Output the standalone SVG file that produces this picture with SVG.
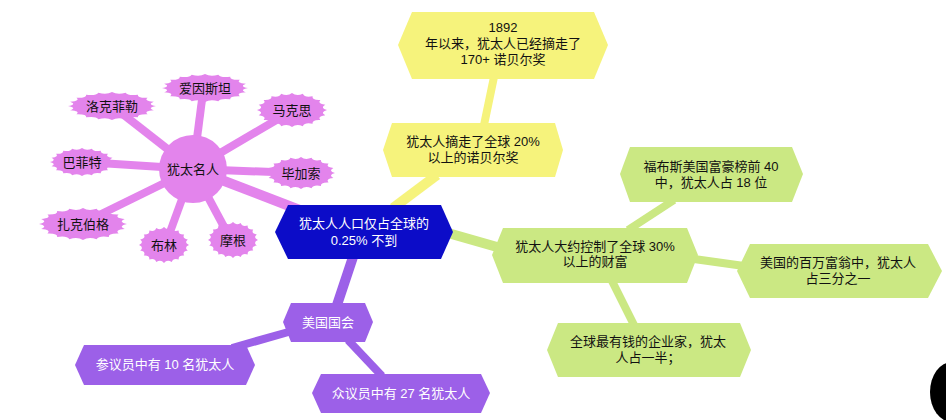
<svg xmlns="http://www.w3.org/2000/svg" width="946" height="420" viewBox="0 0 946 420">
<style>
text{font-family:"Liberation Sans","Noto Sans CJK SC",sans-serif;font-size:13px;text-anchor:middle;dominant-baseline:central}
.w{fill:#ffffff}.k{fill:#111111}
.pk{fill:#e384ec}.ye{fill:#f6f37c}.gr{fill:#cbe883}.pu{fill:#9c60e8}.bl{fill:#0c0cc8}
.cpk{stroke:#e384ec}.cye{stroke:#f6f37c}.cgr{stroke:#cbe883}.cpu{stroke:#9c60e8}
.c{fill:none;stroke-linecap:butt}
</style>
<defs>
<path id="burst" d="M1,0 Q0.790,0.125 0.9511,0.3090 Q0.713,0.363 0.8090,0.5878 Q0.566,0.566 0.5878,0.8090 Q0.363,0.713 0.3090,0.9511 Q0.125,0.790 0,1 Q-0.125,0.790 -0.3090,0.9511 Q-0.363,0.713 -0.5878,0.8090 Q-0.566,0.566 -0.8090,0.5878 Q-0.713,0.363 -0.9511,0.3090 Q-0.790,0.125 -1,0 Q-0.790,-0.125 -0.9511,-0.3090 Q-0.713,-0.363 -0.8090,-0.5878 Q-0.566,-0.566 -0.5878,-0.8090 Q-0.363,-0.713 -0.3090,-0.9511 Q-0.125,-0.790 0,-1 Q0.125,-0.790 0.3090,-0.9511 Q0.363,-0.713 0.5878,-0.8090 Q0.566,-0.566 0.8090,-0.5878 Q0.713,-0.363 0.9511,-0.3090 Q0.790,-0.125 1,0 Z"/>
</defs>
<rect width="946" height="420" fill="#ffffff"/>
<g id="connectors" class="c">
<line class="cpk" x1="193" y1="169" x2="310" y2="214" stroke-width="10"/>
<line class="cpk" x1="193" y1="169" x2="203" y2="92" stroke-width="8"/>
<line class="cpk" x1="193" y1="169" x2="115" y2="108" stroke-width="8"/>
<line class="cpk" x1="193" y1="169" x2="290" y2="112" stroke-width="8"/>
<line class="cpk" x1="193" y1="169" x2="84" y2="162" stroke-width="8"/>
<line class="cpk" x1="193" y1="169" x2="298" y2="173" stroke-width="8"/>
<line class="cpk" x1="193" y1="169" x2="85" y2="222" stroke-width="8"/>
<line class="cpk" x1="193" y1="169" x2="166" y2="243" stroke-width="8"/>
<line class="cpk" x1="193" y1="169" x2="230" y2="238" stroke-width="8"/>
<line class="cye" x1="393" y1="208" x2="437" y2="175" stroke-width="10"/>
<line class="cye" x1="484" y1="125" x2="494" y2="77" stroke-width="8"/>
<line class="cgr" x1="448" y1="233" x2="497" y2="247" stroke-width="10"/>
<line class="cgr" x1="628" y1="230" x2="674" y2="200" stroke-width="8"/>
<line class="cgr" x1="694" y1="259" x2="744" y2="266" stroke-width="8"/>
<line class="cgr" x1="612" y1="281" x2="634" y2="325" stroke-width="8"/>
<line class="cpu" x1="353" y1="257" x2="337" y2="305" stroke-width="10"/>
<line class="cpu" x1="292" y1="331" x2="232" y2="348" stroke-width="8"/>
<line class="cpu" x1="348" y1="340" x2="382" y2="376" stroke-width="8"/>
</g>
<g id="n-center">
<polygon class="bl" points="275,232 288,205 441,205 453,232 441,259 288,259"/>
<text class="w" x="364" y="223">犹太人人口仅占全球的</text>
<text class="w" x="364" y="240">0.25% 不到</text>
</g>
<g id="n-famous">
<circle class="pk" cx="193" cy="169" r="34"/>
<text class="k" x="193" y="169">犹太名人</text>
</g>
<g id="n-einstein"><use href="#burst" class="pk" transform="translate(205,88) scale(43,14)"/><text class="k" x="205" y="88">爱因斯坦</text></g>
<g id="n-rockefeller"><use href="#burst" class="pk" transform="translate(112,106) scale(44,14)"/><text class="k" x="112" y="106">洛克菲勒</text></g>
<g id="n-marx"><use href="#burst" class="pk" transform="translate(292,110) scale(35,17)"/><text class="k" x="292" y="110">马克思</text></g>
<g id="n-buffett"><use href="#burst" class="pk" transform="translate(82,162) scale(32,14)"/><text class="k" x="82" y="162">巴菲特</text></g>
<g id="n-picasso"><use href="#burst" class="pk" transform="translate(301,173) scale(34,16)"/><text class="k" x="301" y="173">毕加索</text></g>
<g id="n-zuckerberg"><use href="#burst" class="pk" transform="translate(83,224) scale(44,16)"/><text class="k" x="83" y="224">扎克伯格</text></g>
<g id="n-brin"><use href="#burst" class="pk" transform="translate(164,245) scale(25,18)"/><text class="k" x="164" y="245">布林</text></g>
<g id="n-morgan"><use href="#burst" class="pk" transform="translate(233,240) scale(25,18)"/><text class="k" x="233" y="240">摩根</text></g>
<g id="n-nobel">
<polygon class="ye" points="383,150 392,123 555,123 563,150 555,177 392,177"/>
<text class="k" x="473" y="141">犹太人摘走了全球 20%</text>
<text class="k" x="473" y="157">以上的诺贝尔奖</text>
</g>
<g id="n-nobel170">
<polygon class="ye" points="398,45 412,12 594,12 608,45 594,79 412,79"/>
<text class="k" x="503" y="27">1892</text>
<text class="k" x="503" y="43">年以来，犹太人已经摘走了</text>
<text class="k" x="503" y="59">170+ 诺贝尔奖</text>
</g>
<g id="n-wealth">
<polygon class="gr" points="492,255 503,228 687,228 698,255 687,283 503,283"/>
<text class="k" x="595" y="246">犹太人大约控制了全球 30%</text>
<text class="k" x="595" y="261">以上的财富</text>
</g>
<g id="n-forbes">
<polygon class="gr" points="620,174 630,147 792,147 803,174 792,202 630,202"/>
<text class="k" x="711" y="166">福布斯美国富豪榜前 40</text>
<text class="k" x="711" y="182">中，犹太人占 18 位</text>
</g>
<g id="n-millionaire">
<polygon class="gr" points="737,271 750,244 928,244 942,271 928,298 750,298"/>
<text class="k" x="838" y="262">美国的百万富翁中，犹太人</text>
<text class="k" x="838" y="278">占三分之一</text>
</g>
<g id="n-richest">
<polygon class="gr" points="547,350 558,323 740,323 751,350 740,377 558,377"/>
<text class="k" x="648" y="341">全球最有钱的企业家，犹太</text>
<text class="k" x="648" y="357">人占一半；</text>
</g>
<g id="n-congress">
<polygon class="pu" points="283,322 291,303 365,303 373,322 365,342 291,342"/>
<text class="w" x="328" y="322">美国国会</text>
</g>
<g id="n-senate">
<polygon class="pu" points="75,365 84,345 246,345 255,365 246,385 84,385"/>
<text class="w" x="165" y="364">参议员中有 10 名犹太人</text>
</g>
<g id="n-house">
<polygon class="pu" points="312,393 321,374 481,374 490,393 481,413 321,413"/>
<text class="w" x="401" y="393">众议员中有 27 名犹太人</text>
</g>
<ellipse cx="952" cy="392" rx="22" ry="30" fill="#000000"/>
</svg>
